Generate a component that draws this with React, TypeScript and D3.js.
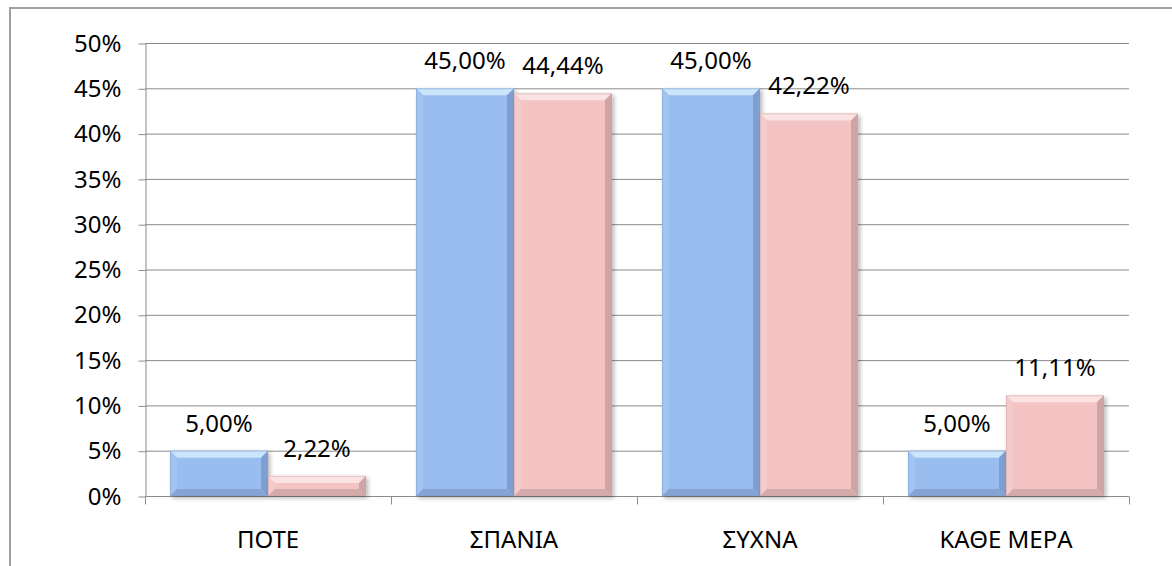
import React, { useEffect, useRef } from 'react';
import * as d3 from 'd3';

const categories = ['ΠΟΤΕ', 'ΣΠΑΝΙΑ', 'ΣΥΧΝΑ', 'ΚΑΘΕ ΜΕΡΑ'];
const seriesNames = ['A', 'B'];
const seriesA = [5.0, 45.0, 45.0, 5.0];
const seriesB = [2.22, 44.44, 42.22, 11.11];
const yTicks = [0, 5, 10, 15, 20, 25, 30, 35, 40, 45, 50];

// bevel palettes per series: main, top highlight, left, right shade, bottom shade
const palettes = [
  { main: '#99bdee', top: '#cbe5fb', left: '#a1c4f1', right: '#7f9fd2', bottom: '#86a4d3' },
  { main: '#f4c3c3', top: '#fbe3e3', left: '#f5caca', right: '#cfa4a4', bottom: '#d4abab' },
];

const App = () => {
  const svgRef = useRef<SVGSVGElement>(null);

  useEffect(() => {
    const svg = d3.select(svgRef.current);
    svg.selectAll('*').remove();

    const W = 1172;
    const H = 566;
    const left = 145;
    const right = 1129;
    const top = 43;
    const bottom = 496;
    const font = "'Noto Sans', 'DejaVu Sans', sans-serif";

    const defs = svg.append('defs');
    const filter = defs.append('filter').attr('id', 'shadow').attr('x', '-10%').attr('y', '-10%').attr('width', '130%').attr('height', '130%');
    filter.append('feDropShadow').attr('dx', 2).attr('dy', 2).attr('stdDeviation', 2).attr('flood-color', '#000').attr('flood-opacity', 0.3);

    // outer frame (runs off the right/bottom edges)
    svg.append('rect')
      .attr('x', 10).attr('y', 8)
      .attr('width', W + 20).attr('height', H + 20)
      .attr('fill', '#fff')
      .attr('stroke', '#a0a0a0')
      .attr('stroke-width', 2);

    const x0 = d3.scaleBand().domain(categories).range([left, right]).paddingInner(0).paddingOuter(0);
    const x1 = d3.scaleBand().domain(seriesNames).range([0, x0.bandwidth()]).paddingInner(0).paddingOuter(0.255);
    const y = d3.scaleLinear().domain([0, 50]).range([bottom, top]);

    // gridlines
    svg.append('g')
      .selectAll('line')
      .data(yTicks.filter((t) => t > 0))
      .enter()
      .append('line')
      .attr('x1', left).attr('x2', right)
      .attr('y1', (d) => y(d) + 0.5).attr('y2', (d) => y(d) + 0.5)
      .attr('stroke', '#8c8c8c')
      .attr('stroke-width', 1);

    // y axis
    const yAxis = svg.append('g')
      .attr('transform', `translate(${left + 0.5},0.5)`)
      .call(d3.axisLeft(y).tickValues(yTicks).tickSize(7).tickPadding(17).tickFormat((d) => `${d}%`).tickSizeOuter(0));
    yAxis.select('.domain').attr('stroke', '#8c8c8c');
    yAxis.selectAll('line').attr('stroke', '#8c8c8c');
    yAxis.selectAll('text').style('font-family', font).style('font-size', '24px').attr('fill', '#000');

    // x axis
    const xAxis = svg.append('g')
      .attr('transform', `translate(0,${bottom + 0.5})`)
      .call(d3.axisBottom(x0).tickSize(0).tickPadding(34).tickSizeOuter(0));
    xAxis.select('.domain').attr('stroke', '#8c8c8c').attr('d', `M${left},0H${right}`);
    xAxis.selectAll('text').style('font-family', font).style('font-size', '24px').attr('fill', '#000');
    xAxis.selectAll('.bound')
      .data(d3.range(categories.length + 1))
      .enter()
      .append('line')
      .attr('x1', (i) => Math.round(left + i * x0.step()) + 0.5)
      .attr('x2', (i) => Math.round(left + i * x0.step()) + 0.5)
      .attr('y1', 0).attr('y2', 8)
      .attr('stroke', '#8c8c8c');

    const series = [seriesA, seriesB];
    const bev = 7;

    series.forEach((vals, si) => {
      const pal = palettes[si];
      vals.forEach((v, ci) => {
        const bx = x0(categories[ci])! + x1(seriesNames[si])!;
        const bw = x1.bandwidth();
        const by = y(v);
        const bh = bottom - by;
        const b = Math.min(bev, bh / 2);
        const g = svg.append('g');

        g.append('rect')
          .attr('x', bx).attr('y', by).attr('width', bw).attr('height', bh)
          .attr('fill', pal.main)
          .attr('filter', 'url(#shadow)');
        // top bevel
        g.append('path')
          .attr('d', `M${bx},${by}H${bx + bw}L${bx + bw - b},${by + b}H${bx + b}Z`)
          .attr('fill', pal.top);
        // left bevel
        g.append('path')
          .attr('d', `M${bx},${by}L${bx + b},${by + b}V${bottom - b}L${bx},${bottom}Z`)
          .attr('fill', pal.left);
        // right bevel
        g.append('path')
          .attr('d', `M${bx + bw},${by}L${bx + bw - b},${by + b}V${bottom - b}L${bx + bw},${bottom}Z`)
          .attr('fill', pal.right);
        // bottom bevel
        g.append('path')
          .attr('d', `M${bx},${bottom}L${bx + b},${bottom - b}H${bx + bw - b}L${bx + bw},${bottom}Z`)
          .attr('fill', pal.bottom);
        g.append('rect')
          .attr('x', bx + 0.5).attr('y', by + 0.5).attr('width', bw - 1).attr('height', bh - 1)
          .attr('fill', 'none')
          .attr('stroke', pal.right)
          .attr('stroke-opacity', 0.5);

        svg.append('text')
          .attr('x', bx + bw / 2)
          .attr('y', by - 19)
          .attr('text-anchor', 'middle')
          .style('font-family', font)
          .style('font-size', '24px')
          .attr('fill', '#000')
          .text(`${v.toFixed(2).replace('.', ',')}%`);
      });
    });
  }, []);

  return (
    <svg
      ref={svgRef}
      width={1172}
      height={566}
      style={{ position: 'absolute', left: 0, top: 0 }}
    ></svg>
  );
};

export default App;
